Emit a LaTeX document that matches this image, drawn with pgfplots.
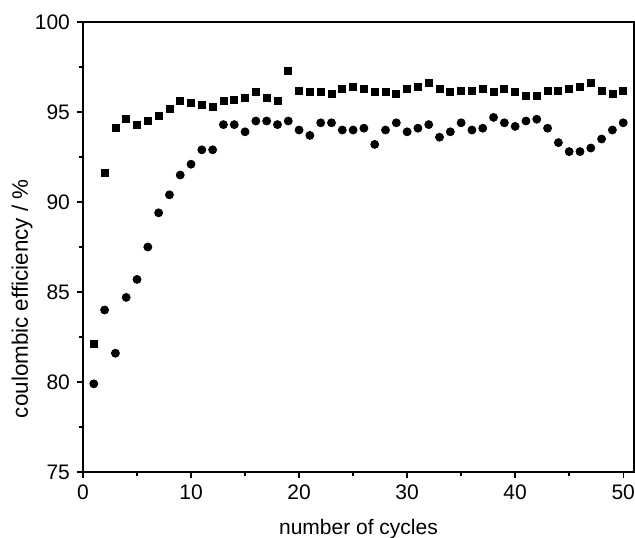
\documentclass[border=0pt]{standalone}
\usepackage{fontspec}
\setmainfont{Liberation Sans}
\usepackage{pgfplots}
\pgfplotsset{compat=1.18}

\begin{document}
\begin{tikzpicture}[font=\fontsize{10.5}{12.5}\selectfont]
\begin{axis}[
  scale only axis,
  width=275.5pt, height=225pt,
  xmin=0, xmax=51, ymin=75, ymax=100,
  xtick={0,10,...,50}, ytick={75,80,...,100},
  minor x tick num=1, minor y tick num=1,
  tick align=outside, xtick pos=bottom, ytick pos=left,
  major tick length=3pt, minor tick length=2pt,
  axis line style={line width=0.8pt}, tick style={line width=0.7pt, black},
  /pgf/number format/assume math mode=true,
  xlabel={number of cycles},
  ylabel={coulombic efficiency / \%},
  xlabel style={yshift=-3pt},
  ylabel style={at={(axis description cs:-0.1107,0.385)}, anchor=center,
                font=\fontsize{11.2}{13}\selectfont},
  clip=false,
]
% squares
\addplot[only marks, mark=square*, mark size=1.75pt, black] coordinates {
(1,82.1) (2,91.6) (3,94.1) (4,94.6) (5,94.3) (6,94.5) (7,94.8) (8,95.2) (9,95.6) (10,95.5)
(11,95.4) (12,95.3) (13,95.6) (14,95.7) (15,95.8) (16,96.1) (17,95.8) (18,95.6) (19,97.3) (20,96.2)
(21,96.1) (22,96.1) (23,96.0) (24,96.3) (25,96.4) (26,96.3) (27,96.1) (28,96.1) (29,96.0) (30,96.3)
(31,96.4) (32,96.6) (33,96.3) (34,96.1) (35,96.2) (36,96.2) (37,96.3) (38,96.1) (39,96.3) (40,96.1)
(41,95.9) (42,95.9) (43,96.2) (44,96.2) (45,96.3) (46,96.4) (47,96.6) (48,96.2) (49,96.0) (50,96.2)
};
% circles
\addplot[only marks, mark=*, mark size=2pt, black] coordinates {
(1,79.9) (2,84.0) (3,81.6) (4,84.7) (5,85.7) (6,87.5) (7,89.4) (8,90.4) (9,91.5) (10,92.1)
(11,92.9) (12,92.9) (13,94.3) (14,94.3) (15,93.9) (16,94.5) (17,94.5) (18,94.3) (19,94.5) (20,94.0)
(21,93.7) (22,94.4) (23,94.4) (24,94.0) (25,94.0) (26,94.1) (27,93.2) (28,94.0) (29,94.4) (30,93.9)
(31,94.1) (32,94.3) (33,93.6) (34,93.9) (35,94.4) (36,94.0) (37,94.1) (38,94.7) (39,94.4) (40,94.2)
(41,94.5) (42,94.6) (43,94.1) (44,93.3) (45,92.8) (46,92.8) (47,93.0) (48,93.5) (49,94.0) (50,94.4)
};
\end{axis}
\pgfresetboundingbox
\path ([shift={(-41.5pt,-32.5pt)}]current axis.south west) rectangle ([shift={(0.5pt,11pt)}]current axis.north east);
\end{tikzpicture}
\end{document}
